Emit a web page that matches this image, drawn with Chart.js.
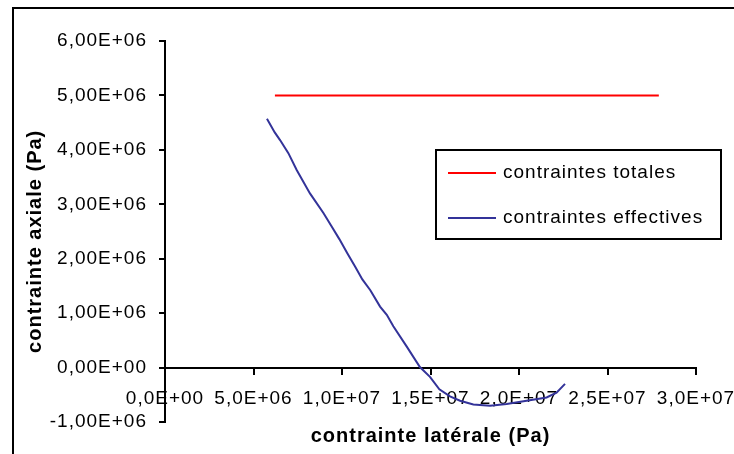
<!DOCTYPE html>
<html>
<head>
<meta charset="utf-8">
<title>contraintes</title>
<script src="https://cdn.jsdelivr.net/npm/chart.js@4.4.1/dist/chart.umd.min.js"></script>
<style>
    body { margin: 0; background: #fff; }
</style>
</head>
<body>
<canvas id="chart" width="734" height="454"></canvas>
<script>

    // contraintes totales (Pa)
    const totX = [6.21e6, 2.79e7]
    const totY = [5.0e6, 5.0e6]

    // contraintes effectives (Pa)
    const effX = [5.76e6, 6.2e6, 6.5e6, 6.97e6, 7.44e6, 8.19e6, 8.95e6, 9.4e6, 9.85e6, 10.3e6,
        10.73e6, 11.15e6, 11.6e6, 12.15e6, 12.53e6, 12.9e6, 13.65e6, 14.4e6, 14.97e6, 15.5e6,
        16.1e6, 16.67e6, 17.42e6, 18.36e6, 19.3e6, 20.43e6, 21.56e6, 22.12e6, 22.6e6]
    const effY = [4.57e6, 4.32e6, 4.18e6, 3.94e6, 3.63e6, 3.2e6, 2.84e6, 2.6e6, 2.36e6, 2.1e6,
        1.86e6, 1.62e6, 1.42e6, 1.12e6, 0.97e6, 0.76e6, 0.39e6, 0.01e6, -0.17e6, -0.4e6,
        -0.53e6, -0.61e6, -0.68e6, -0.7e6, -0.67e6, -0.61e6, -0.55e6, -0.46e6, -0.3e6]

    const seriesNames = ['contraintes totales', 'contraintes effectives']
    const xTitle = 'contrainte latérale (Pa)'
    const yTitle = 'contrainte axiale (Pa)'

    const font = "'Liberation Sans', Arial, sans-serif"

    // Excel style: 6,00E+06
    function sci(v, digits) {
        let [m, e] = v.toExponential(digits).split('e')
        let sign = e[0] === '-' ? '-' : '+'
        let n = e.replace(/[+-]/, '').padStart(2, '0')
        return m.replace('.', ',') + 'E' + sign + n
    }

    const spacing = {
        id: 'spacing',
        beforeLayout(chart) { chart.ctx.letterSpacing = '1px' },
        beforeDraw(chart) {
            const ctx = chart.ctx
            ctx.letterSpacing = '1px'
            ctx.save()
            ctx.fillStyle = '#fff'
            ctx.fillRect(0, 0, chart.width, chart.height)
            ctx.restore()
        }
    }

    const frameAndLegend = {
        id: 'frameAndLegend',
        afterDraw(chart) {
            const ctx = chart.ctx
            ctx.save()
            ctx.strokeStyle = '#000'
            ctx.lineWidth = 2
            ctx.strokeRect(13, 8, 800, 500)

            // legend box
            ctx.strokeRect(436, 150, 285, 89)
            chart.data.datasets.forEach((ds, i) => {
                const y = 173 + i * 45
                ctx.strokeStyle = ds.borderColor
                ctx.lineWidth = 2
                ctx.beginPath()
                ctx.moveTo(448, y)
                ctx.lineTo(496, y)
                ctx.stroke()
                ctx.fillStyle = '#000'
                ctx.font = '19px ' + font
                ctx.textBaseline = 'middle'
                ctx.fillText(ds.label, 503, y)
            })
            ctx.restore()
        }
    }

    new Chart(document.getElementById('chart'), {
        type: 'scatter',
        data: {
            datasets: [
                {
                    label: seriesNames[0],
                    data: totX.map((x, i) => ({ x: x, y: totY[i] })),
                    borderColor: '#ff0000',
                    borderWidth: 2,
                    showLine: true,
                    pointRadius: 0
                },
                {
                    label: seriesNames[1],
                    data: effX.map((x, i) => ({ x: x, y: effY[i] })),
                    borderColor: '#333399',
                    borderWidth: 2,
                    showLine: true,
                    pointRadius: 0
                }
            ]
        },
        options: {
            responsive: false,
            animation: false,
            layout: { padding: { left: 12, top: 41, right: 38, bottom: 32 } },
            plugins: {
                legend: { display: false },
                tooltip: { enabled: false }
            },
            scales: {
                x: {
                    type: 'linear',
                    position: { y: 0 },
                    min: 0,
                    max: 3e7,
                    ticks: {
                        stepSize: 5e6,
                        autoSkip: false,
                        maxRotation: 0,
                        padding: 14,
                        color: '#000',
                        font: { family: font, size: 19 },
                        callback: v => sci(v, 1)
                    },
                    grid: { drawOnChartArea: false, tickLength: 6, color: '#000', lineWidth: 2 },
                    border: { color: '#000', width: 2 },
                    title: {
                        display: true,
                        text: xTitle,
                        color: '#000',
                        font: { family: font, size: 20, weight: 'bold' },
                        padding: { top: 0, bottom: -49 }
                    },
                    afterFit(s) { s.height = 32; s.paddingLeft = 0; s.paddingRight = 0 }
                },
                y: {
                    type: 'linear',
                    position: 'left',
                    min: -1e6,
                    max: 6e6,
                    ticks: {
                        stepSize: 1e6,
                        padding: 12,
                        color: '#000',
                        font: { family: font, size: 19 },
                        callback: v => sci(v, 2)
                    },
                    grid: { drawOnChartArea: false, tickLength: 6, color: '#000', lineWidth: 2 },
                    border: { color: '#000', width: 2 },
                    title: {
                        display: true,
                        text: yTitle + '   ',
                        color: '#000',
                        font: { family: font, size: 20, weight: 'bold' },
                        padding: { top: 11, bottom: 0 }
                    },
                    afterFit(s) { s.width = 153; s.paddingTop = 0; s.paddingBottom = 0 }
                }
            }
        },
        plugins: [spacing, frameAndLegend]
    })

</script>
</body>
</html>
